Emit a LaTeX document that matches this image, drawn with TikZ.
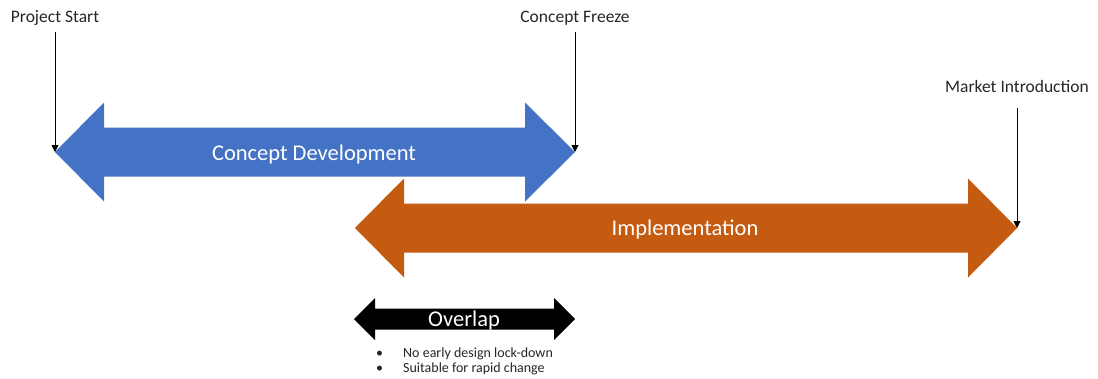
\documentclass[tikz,border=0pt]{standalone}
\usepackage{fontspec}
\setmainfont{Carlito}
\usetikzlibrary{arrows.meta}
\definecolor{phaseblue}{HTML}{4472C4}
\definecolor{phaseorange}{HTML}{C55A11}
\definecolor{labelgray}{HTML}{262626}
\tikzset{
  milestone/.style={text=labelgray, font=\fontsize{17.5}{20}\selectfont, inner sep=0pt, anchor=base},
  phasetext/.style={text=white, font=\fontsize{22.5}{26}\selectfont, inner sep=0pt},
  marker/.style={draw=black, line width=1pt, -{Triangle[width=7pt,length=7pt]}},
  notes/.style={text=labelgray, font=\fontsize{14}{15}\selectfont, align=left, inner sep=0pt, anchor=north west},
}
\begin{document}
\begin{tikzpicture}[x=1pt,y=-1pt]
\useasboundingbox (0,0) rectangle (1098,378);
\fill[white] (0,0) rectangle (1098,378);

% phase: concept development (centre line y=152)
\fill[phaseblue] (55,152) -- (104,102.5) -- (104,127.5) -- (525,127.5) -- (525,102.5)
  -- (575,152) -- (525,201.5) -- (525,176.5) -- (104,176.5) -- (104,201.5) -- cycle;
\coordinate (cdL) at (55,152);
\coordinate (cdR) at (575,152);
\node[phasetext] (cd) at (314,154) {Concept Development};

% phase: implementation (centre line y=228)
\fill[phaseorange] (355,228) -- (404,178.5) -- (404,203.5) -- (968,203.5) -- (968,178.5)
  -- (1017,228) -- (968,277.5) -- (968,252.5) -- (404,252.5) -- (404,277.5) -- cycle;
\coordinate (imR) at (1017,228);
\node[phasetext] (im) at (685,229) {Implementation};

% overlap (centre line y=319)
\fill[black] (354,319) -- (375,298) -- (375,308.5) -- (554,308.5) -- (554,298)
  -- (575,319) -- (554,340) -- (554,329.5) -- (375,329.5) -- (375,340) -- cycle;
\node[phasetext] (ov) at (464,320) {Overlap};

\node[notes] (nt) at (376,348) {\makebox[27pt][l]{•}No early design lock-down\\
  \makebox[27pt][l]{•}Suitable for rapid change};

% milestones
\node[milestone] (ps) at (55,22) {Project Start};
\node[milestone] (cf) at (575,22) {Concept Freeze};
\node[milestone] (mi) at (1017,92) {Market Introduction};
\coordinate (psL) at (55,32);
\coordinate (cfL) at (575,32);
\coordinate (miL) at (1017,108);
\draw[marker] (psL) -- (cdL);
\draw[marker] (cfL) -- (cdR);
\draw[marker] (miL) -- (imR);
\end{tikzpicture}
\end{document}
